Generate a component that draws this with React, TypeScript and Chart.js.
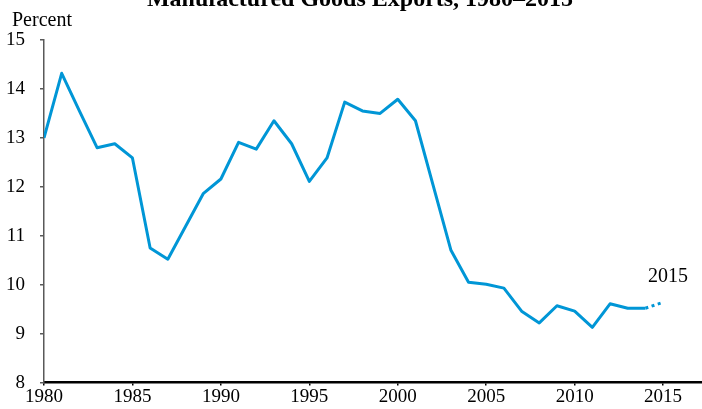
import React, { useEffect, useRef } from "react";
import { Chart, registerables } from "chart.js";

Chart.register(...registerables);

const title = "Manufactured Goods Exports, 1980–2015";
const yLabel = "Percent";
const endLabel = "2015";

const years = [
  1980, 1981, 1982, 1983, 1984, 1985, 1986, 1987, 1988, 1989,
  1990, 1991, 1992, 1993, 1994, 1995, 1996, 1997, 1998, 1999,
  2000, 2001, 2002, 2003, 2004, 2005, 2006, 2007, 2008, 2009,
  2010, 2011, 2012, 2013, 2014, 2015,
];
const values = [
  13.0, 14.32, 13.55, 12.8, 12.88, 12.59, 10.75, 10.52, 11.19, 11.86,
  12.16, 12.91, 12.77, 13.35, 12.88, 12.11, 12.59, 13.73, 13.55, 13.5,
  13.79, 13.35, 12.03, 10.71, 10.05, 10.01, 9.93, 9.46, 9.22, 9.57,
  9.46, 9.13, 9.61, 9.52, 9.52, 9.64,
];
const xTicks = [1980, 1985, 1990, 1995, 2000, 2005, 2010, 2015];
const yTicks = [8, 9, 10, 11, 12, 13, 14, 15];

const FONT = '"Liberation Serif", "Times New Roman", serif';
const LINE = "#0096d6";

export default function App() {
  const ref = useRef<HTMLCanvasElement | null>(null);

  useEffect(() => {
    document.body.style.margin = "0";
    const canvas = ref.current;
    if (!canvas) return;

    const textPlugin = {
      id: "texts",
      afterDraw(chart: any) {
        const ctx = chart.ctx;
        const xs = chart.scales.x;
        const ys = chart.scales.y;
        ctx.save();
        ctx.fillStyle = "#000";
        ctx.textAlign = "center";
        ctx.textBaseline = "alphabetic";
        ctx.font = `bold 24px ${FONT}`;
        ctx.fillText(title, 360, 6);
        ctx.textAlign = "left";
        ctx.font = `20px ${FONT}`;
        ctx.fillText(yLabel, 12, 26);
        const last = values.length - 1;
        const px = xs.getPixelForValue(years[last]);
        const py = ys.getPixelForValue(values[last]);
        ctx.textAlign = "center";
        ctx.textBaseline = "middle";
        ctx.fillText(endLabel, px + 5, py - 26);
        ctx.restore();
      },
    };

    const chart = new Chart(canvas, {
      type: "line",
      data: {
        datasets: [
          {
            data: years.map((y, i) => ({ x: y, y: values[i] })),
            borderColor: LINE,
            borderWidth: 3,
            pointRadius: 0,
            tension: 0,
            fill: false,
            borderCapStyle: "butt",
            borderJoinStyle: "round",
            segment: {
              borderDash: (ctx: any) =>
                ctx.p1DataIndex === values.length - 1 ? [3, 3.5] : undefined,
            },
          } as any,
        ],
      },
      options: {
        responsive: false,
        animation: false,
        devicePixelRatio: 1,
        layout: { padding: { top: 40, left: 0, right: 0, bottom: 0 } },
        plugins: {
          legend: { display: false },
          tooltip: { enabled: false },
          title: { display: false },
        },
        scales: {
          x: {
            type: "linear",
            min: 1980,
            max: 2017.2,
            afterBuildTicks: (s: any) => {
              s.ticks = xTicks.map((v) => ({ value: v }));
            },
            afterFit: (s: any) => {
              s.height = 26;
            },
            border: { display: true, color: "#000", width: 2.5 },
            grid: {
              drawOnChartArea: false,
              drawTicks: true,
              tickLength: 3,
              color: "#000",
              lineWidth: 1.5,
            },
            ticks: {
              color: "#000",
              font: { family: FONT, size: 19 },
              padding: 0,
              maxRotation: 0,
              autoSkip: false,
              callback: (v: any) => String(v),
            },
          },
          y: {
            type: "linear",
            min: 8,
            max: 15,
            afterBuildTicks: (s: any) => {
              s.ticks = yTicks.map((v) => ({ value: v }));
            },
            afterFit: (s: any) => {
              s.width = 44;
            },
            border: { display: true, color: "#595959", width: 1.5 },
            grid: {
              drawOnChartArea: false,
              drawTicks: true,
              tickLength: 4,
              color: "#595959",
              lineWidth: 1.5,
            },
            ticks: {
              color: "#000",
              font: { family: FONT, size: 19 },
              padding: 15,
              autoSkip: false,
              callback: (v: any) => String(v),
            },
          },
        },
      },
      plugins: [textPlugin],
    });

    return () => chart.destroy();
  }, []);

  return (
    <canvas
      ref={ref}
      width={702}
      height={409}
      style={{ display: "block", width: 702, height: 409 }}
    />
  );
}
